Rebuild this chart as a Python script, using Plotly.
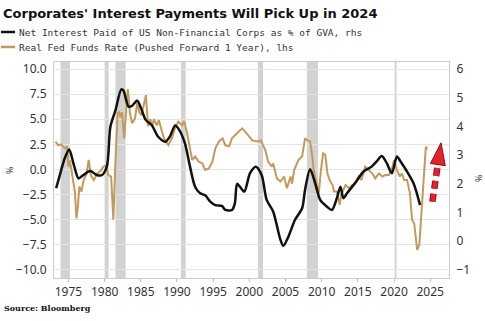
import plotly.graph_objects as go

# ---------------- data ----------------
net_years = [1973.3, 1973.8, 1974.5, 1975.1, 1975.7, 1976.4, 1977.0, 1978.0, 1978.9, 1979.6,
             1980.3, 1980.8, 1981.5, 1982.3, 1982.6, 1983.3, 1983.8, 1984.5, 1985.0, 1985.7,
             1986.5, 1987.4, 1988.4, 1989.0, 1989.75, 1990.3, 1991.1, 1991.8, 1992.5, 1993.2,
             1993.9, 1994.6, 1995.3, 1996.2, 1996.7, 1997.6, 1998.0, 1998.3, 1998.7, 1999.3,
             2000.1, 2000.9, 2001.7, 2002.4, 2003.3, 2004.3, 2004.7, 2005.4, 2006.3, 2007.3,
             2007.7, 2008.4, 2009.1, 2009.8, 2010.7, 2011.4, 2012.1, 2012.6, 2013.0, 2013.5,
             2014.6, 2015.8, 2016.9, 2017.6, 2018.3, 2019.0, 2019.7, 2020.4, 2020.9, 2021.8,
             2022.7, 2023.6]
net_interest = [1.85, 2.3, 2.9, 3.2, 2.7, 2.19, 2.3, 2.45, 2.31, 2.3,
                2.6, 4.0, 4.57, 5.29, 5.25, 4.69, 4.72, 4.9, 4.65, 4.22,
                4.05, 3.64, 3.47, 3.64, 4.03, 3.88, 3.41, 2.6, 1.9, 1.67,
                1.6, 1.38, 1.26, 1.23, 1.09, 1.09, 1.32, 2.0, 1.9, 1.73,
                2.37, 2.6, 2.31, 1.44, 1.03, 0.05, -0.16, 0.16, 0.74, 1.15,
                1.79, 2.51, 2.02, 1.44, 1.21, 1.09, 1.5, 1.9, 1.5, 1.67,
                2.02, 2.43, 2.6, 2.78, 2.97, 2.72, 2.37, 2.95, 2.78, 2.43,
                2.02, 1.26]

fed_years = [1973.2, 1973.6, 1974.0, 1974.5, 1974.8, 1975.0, 1975.2, 1975.5, 1975.9, 1976.1,
             1976.3, 1976.5, 1976.8, 1977.1, 1977.5, 1977.8, 1978.1, 1978.5, 1979.0, 1979.5,
             1979.8, 1980.2, 1980.5, 1980.9, 1981.2, 1981.5, 1981.8, 1982.0, 1982.2, 1982.4,
             1982.7, 1983.0, 1983.2, 1983.5, 1983.8, 1984.2, 1984.5, 1984.8, 1985.1, 1985.4,
             1985.7, 1986.0, 1986.3, 1986.6, 1986.8, 1987.2, 1987.5, 1987.8, 1988.2, 1988.8,
             1989.3, 1989.8, 1990.2, 1990.7, 1991.0, 1991.4, 1991.8, 1992.1, 1992.5, 1993.0,
             1993.5, 1993.9, 1994.4, 1994.9, 1995.3, 1995.8, 1996.3, 1996.7, 1997.2, 1997.6,
             1998.3, 1999.0, 1999.4, 1999.8, 2000.4, 2001.1, 2001.6, 2002.2, 2002.6, 2003.1,
             2003.3, 2003.8, 2004.3, 2004.8, 2005.2, 2005.7, 2005.9, 2006.2, 2006.8, 2007.3,
             2007.7, 2008.0, 2008.4, 2008.7, 2008.9, 2009.2, 2009.6, 2009.9, 2010.2, 2010.5,
             2010.8, 2011.1, 2011.5, 2011.7, 2012.1, 2012.5, 2012.7, 2013.3, 2013.8, 2014.2,
             2014.6, 2015.1, 2015.5, 2016.0, 2016.5, 2017.0, 2017.4, 2017.9, 2018.4, 2018.8,
             2019.3, 2019.8, 2020.0, 2020.4, 2020.8, 2021.1, 2021.4, 2021.8, 2022.2, 2022.5,
             2022.8, 2023.1, 2023.2, 2023.5, 2023.8, 2024.1, 2024.4, 2024.6]
real_fed_funds = [2.77, 2.4, 2.5, 2.1, 2.3, 0.28, 0.9, -0.4, -2.3, -4.86,
                  -3.7, -1.7, -2.2, -1.05, -0.4, 0.95, -0.6, -1.05, -0.4, -0.1,
                  0.28, 0.4, -0.55, -0.7, -5.0, 0.9, 5.6, 5.7, 5.2, 5.7,
                  3.1, 6.15, 8.0, 5.6, 4.6, 5.1, 6.6, 5.7, 5.4, 6.4,
                  7.4, 4.3, 5.0, 4.4, 5.0, 4.4, 4.9, 4.1, 3.1, 2.44,
                  3.1, 4.3, 4.76, 4.4, 4.8, 3.6, 2.0, 0.95, 1.3, 0.78,
                  0.61, -0.05, 0.1, 0.78, 2.1, 2.8, 3.1, 2.4, 2.3, 3.1,
                  3.6, 4.1, 3.8, 3.4, 2.9, 2.8, 2.9, 1.94, 0.78, 0.28,
                  0.6, -0.88, -1.2, -0.7, -1.87, -0.7, -1.4, -0.05, 0.95, 1.3,
                  3.1, 2.9, 2.8, 1.3, -0.05, -1.05, -2.37, -0.05, 1.6, 1.45,
                  -0.4, -1.05, -1.55, -2.2, -2.2, -3.5, -2.5, -1.55, -1.87, -1.55,
                  -1.4, -0.7, -1.05, 0.28, -0.05, -0.4, -0.88, -0.4, -0.7, -0.55,
                  -0.55, 0.28, 0.95, -0.05, -0.7, -0.4, -1.05, -1.05, -2.37, -5.0,
                  -5.4, -7.0, -8.0, -7.5, -4.0, -0.05, 2.27, 2.0]

recession_starts = [1973.9, 1980.0, 1981.5, 1990.55, 2001.2, 2007.95, 2020.1]
recession_ends = [1975.2, 1980.55, 1982.9, 1991.2, 2001.9, 2009.5, 2020.35]

left_ticks = [-10.0, -7.5, -5.0, -2.5, 0.0, 2.5, 5.0, 7.5, 10.0]
right_ticks = [-1, 0, 1, 2, 3, 4, 5, 6]
x_ticks = [1975, 1980, 1985, 1990, 1995, 2000, 2005, 2010, 2015, 2020, 2025]

title_text = "Corporates' Interest Payments Will Pick Up in 2024"
net_name = "Net Interest Paid of US Non-Financial Corps as % of GVA, rhs"
fed_name = "Real Fed Funds Rate (Pushed Forward 1 Year), lhs"
source_text = "Source: Bloomberg"

# arrow (start, tip) in x-years / rhs units
arrow_x = [2025.3, 2026.5]
arrow_y = [1.38, 3.43]

# ---------------- layout geometry ----------------
W, H = 485, 321
ML, MR, MT, MB = 54, 36, 62, 43
pw, ph = W - ML - MR, H - MT - MB
X_RANGE = [1973.0, 2027.6]
Y_RANGE = [-10.8, 10.7]
Y2_RANGE = [-1.28, 6.245]

BLACK = "#111111"
TAN = "#C49A5A"
RED = "#E8202A"
DARKRED = "#8E1016"
TICKFONT = dict(family="Noto Sans", size=12, color="#333333")


def px2paper(x, y):
    return (x - ML) / pw, 1 - (y - MT) / ph


# scale helpers (data <-> pixel) for the arrow geometry
def x2px(v):
    return ML + (v - X_RANGE[0]) / (X_RANGE[1] - X_RANGE[0]) * pw


def y2px(v):
    return MT + (Y2_RANGE[1] - v) / (Y2_RANGE[1] - Y2_RANGE[0]) * ph


def px2x(p):
    return X_RANGE[0] + (p - ML) / pw * (X_RANGE[1] - X_RANGE[0])


def px2y(p):
    return Y2_RANGE[1] - (p - MT) / ph * (Y2_RANGE[1] - Y2_RANGE[0])


fig = go.Figure()

fig.add_trace(go.Scatter(x=fed_years, y=real_fed_funds, mode="lines", name=fed_name,
                         line=dict(color=TAN, width=2), yaxis="y"))
fig.add_trace(go.Scatter(x=net_years, y=net_interest, mode="lines", name=net_name,
                         line=dict(color=BLACK, width=2.5, shape="spline", smoothing=0.8),
                         yaxis="y2"))

for s, e in zip(recession_starts, recession_ends):
    fig.add_shape(type="rect", xref="x", yref="paper", x0=s, x1=e, y0=0, y1=1,
                  fillcolor="#D2D2D2", line=dict(width=0), layer="below")
# dashed zero line
fig.add_shape(type="line", xref="paper", yref="y", x0=0, x1=1, y0=0, y1=0,
              line=dict(color="#999999", width=1, dash="dash"), layer="below")

# legend line samples
for yy, col in [(32, BLACK), (47, TAN)]:
    x0, y0 = px2paper(1, yy)
    x1, _ = px2paper(15, yy)
    fig.add_shape(type="line", xref="paper", yref="paper", x0=x0, x1=x1, y0=y0, y1=y0,
                  line=dict(color=col, width=2.5))

# red dashed arrow
sx, sy = x2px(arrow_x[0]), y2px(arrow_y[0])
tx, ty = x2px(arrow_x[1]), y2px(arrow_y[1])
L = ((tx - sx) ** 2 + (ty - sy) ** 2) ** 0.5
ux, uy = (tx - sx) / L, (ty - sy) / L
head_len, head_half = 22, 7.5
bx, by = tx - head_len * ux, ty - head_len * uy
pxp, pyp = -uy, ux
c1 = (bx + head_half * pxp, by + head_half * pyp)
c2 = (bx - head_half * pxp, by - head_half * pyp)
for col, wd in [(DARKRED, 6.5), (RED, 4.5)]:
    fig.add_shape(type="line", xref="x", yref="y2", x0=px2x(sx), y0=px2y(sy),
                  x1=px2x(bx + 2 * ux), y1=px2y(by + 2 * uy),
                  line=dict(color=col, width=wd, dash="8px,5px"))
path = "M {} {} L {} {} L {} {} Z".format(px2x(tx), px2y(ty), px2x(c1[0]), px2y(c1[1]),
                                          px2x(c2[0]), px2y(c2[1]))
fig.add_shape(type="path", xref="x", yref="y2", path=path, fillcolor=RED,
              line=dict(color=DARKRED, width=1))

annotations = [
    dict(text="<b>" + title_text + "</b>", x=px2paper(1, 14)[0], y=px2paper(1, 14)[1],
         xanchor="left", font=dict(family="DejaVu Sans", size=13, color="#111111")),
    dict(text=net_name, x=px2paper(17, 32)[0], y=px2paper(17, 32)[1], xanchor="left",
         font=dict(family="DejaVu Sans Mono", size=9.5, color="#333333")),
    dict(text=fed_name, x=px2paper(17, 47)[0], y=px2paper(17, 47)[1], xanchor="left",
         font=dict(family="DejaVu Sans Mono", size=9.5, color="#333333")),
    dict(text="<b>" + source_text + "</b>", x=px2paper(2, 308)[0], y=px2paper(2, 308)[1],
         xanchor="left", font=dict(family="DejaVu Serif", size=8, color="#111111")),
    dict(text="%", textangle=-90, x=px2paper(9, 170)[0], y=px2paper(9, 170)[1],
         xanchor="center", font=dict(family="Noto Sans", size=9, color="#333333")),
    dict(text="%", textangle=-90, x=px2paper(478, 178)[0], y=px2paper(478, 178)[1],
         xanchor="center", font=dict(family="Noto Sans", size=9, color="#333333")),
]
for a in annotations:
    fig.add_annotation(xref="paper", yref="paper", yanchor="middle", showarrow=False, **a)

fig.update_layout(
    width=W, height=H,
    margin=dict(l=ML, r=MR, t=MT, b=MB, pad=0),
    paper_bgcolor="white", plot_bgcolor="white",
    showlegend=False,
    xaxis=dict(range=X_RANGE, tickvals=x_ticks, showgrid=False,
               ticks="outside", ticklen=3, tickcolor="#BBBBBB",
               showline=True, linecolor="#CCCCCC", mirror=True, linewidth=1,
               tickfont=TICKFONT, zeroline=False),
    yaxis=dict(range=Y_RANGE, tickvals=left_ticks, tickformat=".1f",
               showgrid=True, gridcolor="#E4E4E4", gridwidth=1, zeroline=False,
               showline=True, linecolor="#CCCCCC", linewidth=1,
               ticks="", tickfont=TICKFONT, ticklabelstandoff=4),
    yaxis2=dict(range=Y2_RANGE, tickvals=right_ticks, overlaying="y", side="right",
                showgrid=False, zeroline=False, showline=True, linecolor="#CCCCCC",
                ticks="", tickfont=TICKFONT, ticklabelstandoff=4),
)

fig.write_html("out.html")
